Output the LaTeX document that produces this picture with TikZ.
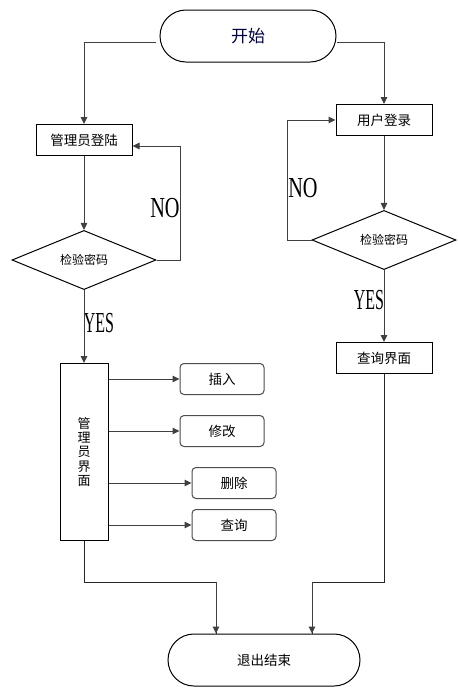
\documentclass[tikz,border=0pt]{standalone}
\usepackage{fontspec}
\setmainfont{Noto Sans CJK SC}
\newfontfamily\nofont[FakeStretch=0.7]{Liberation Serif}
\newfontfamily\yesfont[FakeStretch=0.55]{Liberation Serif}
\usetikzlibrary{arrows.meta,shapes.geometric,positioning}
\tikzset{
  flow/.style={-{Triangle[length=7pt,width=6.5pt]}, line width=1pt, black!75},
  plain/.style={line width=1pt, black!85},
  term/.style={draw, line width=1pt, rounded corners=26pt, minimum width=176pt, minimum height=52pt, inner sep=0},
  box/.style={draw, line width=1pt, minimum width=96pt, minimum height=31pt, inner sep=0, font=\fontsize{13.5}{15}\selectfont},
  opbox/.style={draw=black!70, line width=1pt, rounded corners=4pt, minimum width=84pt, minimum height=31pt, inner sep=0, font=\fontsize{13.5}{15}\selectfont},
  check/.style={draw, diamond, line width=1pt, minimum width=144pt, minimum height=41pt, inner sep=0, font=\fontsize{12}{14}\selectfont},
  tag/.style={inner sep=0, font=\fontsize{29}{30}}
}
\begin{document}
\begin{tikzpicture}[x=1pt,y=-1pt]
  \useasboundingbox (0,0) rectangle (458,697);
  % terminals
  \node[term, font=\fontsize{17}{19}\selectfont, text=blue!25!black] (start) at (248,36) {开始};
  \node[term, minimum width=192pt, font=\fontsize{13.5}{15}\selectfont] (exit) at (264,660) {退出结束};
  % admin side
  \node[box] (admin) at (84,140) {管理员登陆};
  \node[check] (achk) at (84,260) {检验密码};
  \node[draw, line width=1pt, minimum width=48pt, minimum height=177pt, inner sep=0, align=center,
        font=\fontsize{13}{14.2}\selectfont] (aui) at (84,452) {管\\理\\员\\界\\面};
  \node[opbox] (ins) at (222,379) {插入};
  \node[opbox] (mod) at (222,431) {修改};
  \node[opbox] (del) at (234,483) {删除};
  \node[opbox] (qry) at (234,525) {查询};
  % user side
  \node[box] (user) at (384,120) {用户登录};
  \node[check] (uchk) at (384,240) {检验密码};
  \node[box] (uui) at (384,358) {查询界面};
  % labels
  \node[tag] (ano) at (165,208) {\nofont NO};
  \node[tag] (uno) at (303,188) {\nofont NO};
  \node[tag] (ayes) at (99,323) {\yesfont YES};
  \node[tag] (uyes) at (369,300) {\yesfont YES};
  % connectors
  \draw[flow] ([shift={(-4,6)}]start.west) -| (admin.north);
  \draw[flow] ([shift={(0,6)}]start.east) -| (user.north);
  \draw[flow] (admin) -- (achk);
  \draw[flow] (achk.east) -- ++(24,0) |- ([yshift=-6]admin.east);
  \draw[flow] (achk.south) -- (aui.north);
  \draw[flow] (user) -- (uchk);
  \draw[flow] (uchk.west) -- ++(-24,0) |- (user.west);
  \draw[flow] (uchk.south) -- (uui.north);
  \draw[flow] (aui.east |- ins) -- (ins.west);
  \draw[flow] (aui.east |- mod) -- (mod.west);
  \draw[flow] (aui.east |- del) -- (del.west);
  \draw[flow] (aui.east |- qry) -- (qry.west);
  \draw[plain] (aui.south) -- ++(0,41) -| ([xshift=-48]exit.north);
  \draw[flow] ([xshift=-48]exit.north) ++(0,-52) -- ([xshift=-48]exit.north);
  \draw[plain] (uui.south) -- ++(0,208) -| ([xshift=48]exit.north);
  \draw[flow] ([xshift=48]exit.north) ++(0,-52) -- ([xshift=48]exit.north);
\end{tikzpicture}
\end{document}
